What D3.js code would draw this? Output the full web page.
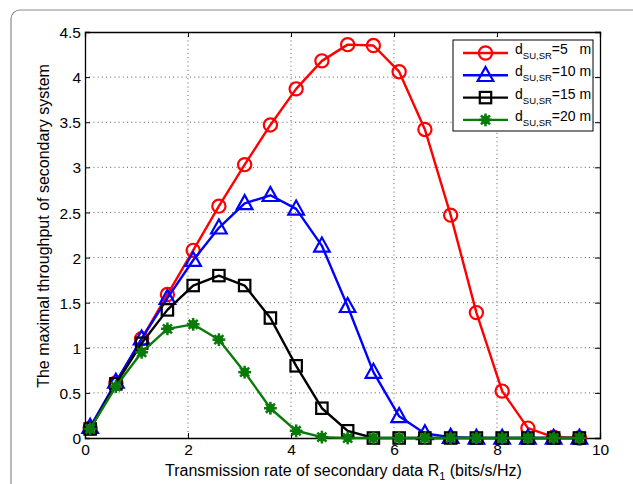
<!DOCTYPE html>
<html>
<head>
<meta charset="utf-8">
<script src="https://cdn.jsdelivr.net/npm/d3@7"></script>
<style>
  html, body { margin: 0; padding: 0; background: #fff; }
  svg { display: block; font-family: "Liberation Sans", Arial, Helvetica, sans-serif; }
</style>
</head>
<body>
<svg id="chart" width="633" height="484"></svg>
<script>
// Transmission rate R1 (bits/s/Hz) sampled for every curve
const rates = [0.1, 0.6, 1.1, 1.6, 2.1, 2.6, 3.1, 3.6, 4.1, 4.6, 5.1, 5.6, 6.1, 6.6, 7.1, 7.6, 8.1, 8.6, 9.1, 9.6];

// Maximal throughput of the secondary system for each SU–SR distance
const thr5m  = [0.11, 0.61, 1.10, 1.59, 2.08, 2.57, 3.03, 3.47, 3.87, 4.18, 4.36, 4.35, 4.06, 3.42, 2.47, 1.39, 0.52, 0.11, 0.01, 0.00];
const thr10m = [0.12, 0.62, 1.10, 1.55, 1.97, 2.33, 2.60, 2.69, 2.54, 2.13, 1.46, 0.73, 0.24, 0.05, 0.01, 0.00, 0.00, 0.00, 0.00, 0.00];
const thr15m = [0.10, 0.60, 1.05, 1.42, 1.69, 1.80, 1.69, 1.33, 0.80, 0.33, 0.08, 0.00, 0.00, 0.00, 0.00, 0.00, 0.00, 0.00, 0.00, 0.00];
const thr20m = [0.10, 0.57, 0.95, 1.21, 1.26, 1.09, 0.73, 0.33, 0.08, 0.01, 0.00, 0.00, 0.00, 0.00, 0.00, 0.00, 0.00, 0.00, 0.00, 0.00];

const seriesNames = ["5   m", "10 m", "15 m", "20 m"];
const xTicks = [0, 2, 4, 6, 8, 10];
const yTicks = [0, 0.5, 1, 1.5, 2, 2.5, 3, 3.5, 4, 4.5];

const series = [
  { name: seriesNames[0], values: thr5m,  color: "#ff0000", marker: "circle" },
  { name: seriesNames[1], values: thr10m, color: "#0000ff", marker: "triangle" },
  { name: seriesNames[2], values: thr15m, color: "#000000", marker: "square" },
  { name: seriesNames[3], values: thr20m, color: "#0a7a0a", marker: "star" }
];

const svg = d3.select("#chart");
const plot = { left: 85, right: 600, top: 32, bottom: 438 };

// Rounded figure frame
svg.append("rect")
  .attr("x", 11).attr("y", 10)
  .attr("width", 640).attr("height", 500)
  .attr("rx", 9).attr("ry", 9)
  .attr("fill", "none").attr("stroke", "#8a8a8a").attr("stroke-width", 1.2);

const x = d3.scaleLinear().domain([0, 10]).range([plot.left, plot.right]);
const y = d3.scaleLinear().domain([0, 4.5]).range([plot.bottom, plot.top]);

// Dotted grid
const grid = svg.append("g").attr("stroke", "#4a4a4a").attr("stroke-width", 0.9)
  .attr("stroke-dasharray", "1,3.2");
grid.selectAll("line.gx").data(xTicks.filter(t => t > 0 && t < 10)).join("line")
  .attr("x1", d => x(d)).attr("x2", d => x(d))
  .attr("y1", plot.top).attr("y2", plot.bottom);
grid.selectAll("line.gy").data(yTicks.filter(t => t > 0 && t < 4.5)).join("line")
  .attr("y1", d => y(d)).attr("y2", d => y(d))
  .attr("x1", plot.left).attr("x2", plot.right);

// Axes with inward ticks on all four sides
const tickFmt = d3.format("");
const axB = svg.append("g").attr("transform", `translate(0,${plot.bottom})`)
  .call(d3.axisBottom(x).tickValues(xTicks).tickSize(-5).tickPadding(6).tickFormat(tickFmt));
const axT = svg.append("g").attr("transform", `translate(0,${plot.top})`)
  .call(d3.axisTop(x).tickValues(xTicks).tickSize(-5).tickFormat(""));
const axL = svg.append("g").attr("transform", `translate(${plot.left},0)`)
  .call(d3.axisLeft(y).tickValues(yTicks).tickSize(-5).tickPadding(4).tickFormat(tickFmt));
const axR = svg.append("g").attr("transform", `translate(${plot.right},0)`)
  .call(d3.axisRight(y).tickValues(yTicks).tickSize(-5).tickFormat(""));
[axB, axT, axL, axR].forEach(g => {
  g.select(".domain").attr("stroke", "#000").attr("stroke-width", 1.3);
  g.selectAll(".tick line").attr("stroke", "#000").attr("stroke-width", 1);
  g.selectAll(".tick text").attr("font-size", 15.5).attr("fill", "#000")
    .attr("font-family", "Liberation Sans, Arial, sans-serif");
});
axL.selectAll(".tick text").attr("dy", "0.36em");

// Marker drawing
function drawMarker(g, type, color) {
  if (type === "circle") {
    g.append("circle").attr("r", 6.6).attr("fill", "none")
      .attr("stroke", color).attr("stroke-width", 2.2);
  } else if (type === "triangle") {
    g.append("path").attr("d", "M0,-8.3 L7.8,5.7 L-7.8,5.7 Z").attr("fill", "none")
      .attr("stroke", color).attr("stroke-width", 2.2).attr("stroke-linejoin", "miter");
  } else if (type === "square") {
    g.append("rect").attr("x", -5.7).attr("y", -5.7).attr("width", 11.4).attr("height", 11.4)
      .attr("fill", "none").attr("stroke", color).attr("stroke-width", 2.2);
  } else {
    g.append("circle").attr("r", 4.4).attr("fill", color);
    [0, 45, 90, 135].forEach(a => {
      const r = 6.4, t = a * Math.PI / 180;
      g.append("line")
        .attr("x1", -r * Math.cos(t)).attr("y1", -r * Math.sin(t))
        .attr("x2", r * Math.cos(t)).attr("y2", r * Math.sin(t))
        .attr("stroke", color).attr("stroke-width", 2.5);
    });
  }
}

const line = d3.line().x((d, i) => x(rates[i])).y(d => y(d));

series.forEach(s => {
  svg.append("path").datum(s.values)
    .attr("d", line).attr("fill", "none")
    .attr("stroke", s.color).attr("stroke-width", 2.4)
    .attr("stroke-linejoin", "round");
  const mk = svg.append("g");
  s.values.forEach((v, i) => {
    const g = mk.append("g").attr("transform", `translate(${x(rates[i])},${y(v)})`);
    drawMarker(g, s.marker, s.color);
  });
});

// Legend
const leg = svg.append("g");
leg.append("rect").attr("x", 453).attr("y", 40).attr("width", 140).attr("height", 91)
  .attr("fill", "#fff").attr("stroke", "#000").attr("stroke-width", 1);
series.forEach((s, i) => {
  const cy = 53 + i * 22.3;
  leg.append("line").attr("x1", 463).attr("x2", 508).attr("y1", cy).attr("y2", cy)
    .attr("stroke", s.color).attr("stroke-width", 2.4);
  drawMarker(leg.append("g").attr("transform", `translate(485.5,${cy})`), s.marker, s.color);
  const t = leg.append("text").attr("x", 515).attr("y", cy + 1).attr("font-size", 14)
    .attr("fill", "#000");
  t.append("tspan").text("d");
  t.append("tspan").attr("font-size", 9.5).attr("dy", 5).text("SU,SR");
  t.append("tspan").attr("dy", -5).text("=" + s.name).style("white-space", "pre");
});

// Axis titles
const xt = svg.append("text").attr("x", 165).attr("y", 476).attr("font-size", 16).attr("fill", "#000");
xt.append("tspan").text("Transmission rate of secondary data R");
xt.append("tspan").attr("font-size", 11).attr("dy", 4).text("1");
xt.append("tspan").attr("dy", -4).text(" (bits/s/Hz)").style("white-space", "pre");

svg.append("text")
  .attr("transform", "translate(49,226) rotate(-90)")
  .attr("text-anchor", "middle").attr("font-size", 16).attr("fill", "#000")
  .text("The maximal throughput of secondary system");
</script>
</body>
</html>
